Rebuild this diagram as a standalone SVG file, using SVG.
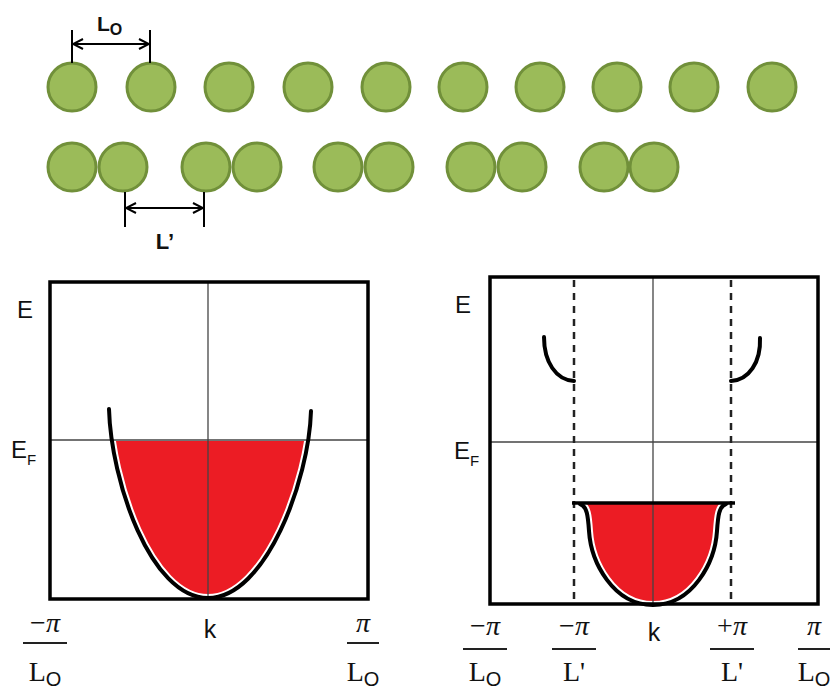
<svg xmlns="http://www.w3.org/2000/svg" width="832" height="689" viewBox="0 0 832 689">
<style>
.atom{fill:#9bbb59;stroke:#71903a;stroke-width:3}
.box{fill:none;stroke:#000;stroke-width:3.5}
.axis{stroke:#444;stroke-width:1.3;fill:none}
.dash{stroke:#222;stroke-width:2.5;stroke-dasharray:7 6;fill:none}
.band{fill:none;stroke:#000;stroke-width:4;stroke-linecap:round}
.red{fill:#ec1c24}
.gap{fill:none;stroke:#fff;stroke-width:8}
.lbl{font-family:"Liberation Sans",Arial,sans-serif;fill:#111}
.ser{font-family:"Liberation Serif","Times New Roman",serif;fill:#111}
.frac{stroke:#222;stroke-width:2}
.dim{stroke:#000;stroke-width:2;fill:none}
</style>
<defs>
<marker id="ah" viewBox="0 0 12 12" refX="11" refY="6" markerWidth="12" markerHeight="12" markerUnits="userSpaceOnUse" orient="auto-start-reverse">
<path d="M1,1 L11,6 L1,11" fill="none" stroke="#000" stroke-width="2"/>
</marker>
<clipPath id="below1"><rect x="0" y="441" width="420" height="248"/></clipPath>
<clipPath id="in1"><path d="M109,409 C111,480 150,598 208,598 C266,598 309,480 311,411 Z"/></clipPath>
<clipPath id="in2"><path d="M580,504 C587,506 588,516 589,531 C591,562 613,605 653,605 C693,605 715,562 717,531 C718,516 719,506 726,504 Z"/></clipPath>
</defs>

<g id="chain1">
<circle class="atom" cx="72" cy="87" r="24"/>
<circle class="atom" cx="151" cy="87" r="24"/>
<circle class="atom" cx="229" cy="87" r="24"/>
<circle class="atom" cx="308" cy="87" r="24"/>
<circle class="atom" cx="386" cy="87" r="24"/>
<circle class="atom" cx="463" cy="87" r="24"/>
<circle class="atom" cx="540" cy="87" r="24"/>
<circle class="atom" cx="617" cy="87" r="24"/>
<circle class="atom" cx="694" cy="87" r="24"/>
<circle class="atom" cx="772" cy="87" r="24"/>
</g>
<g id="dimL0">
<line class="dim" x1="72" y1="30" x2="72" y2="63"/>
<line class="dim" x1="150" y1="30" x2="150" y2="63"/>
<line class="dim" x1="73" y1="44" x2="149" y2="44" marker-start="url(#ah)" marker-end="url(#ah)"/>
<text class="lbl" x="97" y="31" font-size="21" font-weight="bold">L<tspan font-size="16" dy="4">O</tspan></text>
</g>

<g id="chain2">
<circle class="atom" cx="72" cy="167" r="24"/>
<circle class="atom" cx="123" cy="167" r="24"/>
<circle class="atom" cx="206" cy="167" r="24"/>
<circle class="atom" cx="257" cy="167" r="24"/>
<circle class="atom" cx="338" cy="167" r="24"/>
<circle class="atom" cx="389" cy="167" r="24"/>
<circle class="atom" cx="471" cy="167" r="24"/>
<circle class="atom" cx="522" cy="167" r="24"/>
<circle class="atom" cx="604" cy="167" r="24"/>
<circle class="atom" cx="654" cy="167" r="24"/>
</g>
<g id="dimLp">
<line class="dim" x1="125" y1="192" x2="125" y2="227"/>
<line class="dim" x1="204" y1="192" x2="204" y2="227"/>
<line class="dim" x1="126" y1="208" x2="203" y2="208" marker-start="url(#ah)" marker-end="url(#ah)"/>
<text class="lbl" x="165" y="249" font-size="22" font-weight="bold" text-anchor="middle">L’</text>
</g>

<g id="plot1">
<g clip-path="url(#below1)">
<path class="red" d="M109,409 C111,480 150,598 208,598 C266,598 309,480 311,411 Z"/>
<path class="gap" clip-path="url(#in1)" d="M109,409 C111,480 150,598 208,598 C266,598 309,480 311,411"/>
</g>
<line class="axis" x1="50" y1="440" x2="368" y2="440"/>
<line class="axis" x1="208" y1="282" x2="208" y2="599"/>
<path class="band" d="M109,409 C111,480 150,598 208,598 C266,598 309,480 311,411"/>
<rect class="box" x="50" y="282" width="318" height="317"/>
<text class="lbl" x="17" y="318" font-size="24">E</text>
<text class="lbl" x="11" y="458" font-size="24">E<tspan font-size="15" dy="7">F</tspan></text>
<text class="lbl" x="210" y="638" font-size="25" text-anchor="middle">k</text>
<text class="ser" x="45" y="632" font-size="28" text-anchor="middle">−<tspan font-style="italic">π</tspan></text>
<line class="frac" x1="23" y1="643" x2="67" y2="643"/>
<text class="ser" x="45" y="681" font-size="28" text-anchor="middle">L<tspan class="lbl" font-size="20" dy="5">O</tspan></text>
<text class="ser" x="363" y="632" font-size="28" font-style="italic" text-anchor="middle">π</text>
<line class="frac" x1="347" y1="643" x2="379" y2="643"/>
<text class="ser" x="363" y="681" font-size="28" text-anchor="middle">L<tspan class="lbl" font-size="20" dy="5">O</tspan></text>
</g>

<g id="plot2">
<path class="red" d="M580,504 C587,506 588,516 589,531 C591,562 613,605 653,605 C693,605 715,562 717,531 C718,516 719,506 726,504 Z"/>
<path class="gap" clip-path="url(#in2)" d="M580,504 C587,506 588,516 589,531 C591,562 613,605 653,605 C693,605 715,562 717,531 C718,516 719,506 726,504"/>
<line class="axis" x1="490" y1="442" x2="818" y2="442"/>
<line class="axis" x1="653" y1="277" x2="653" y2="604"/>
<line class="dash" x1="574" y1="280" x2="574" y2="602"/>
<line class="dash" x1="731" y1="280" x2="731" y2="602"/>
<path class="band" d="M580,504 C587,506 588,516 589,531 C591,562 613,605 653,605 C693,605 715,562 717,531 C718,516 719,506 726,504"/>
<line x1="572" y1="503" x2="735" y2="503" stroke="#000" stroke-width="3.5"/>
<path class="band" d="M544,337 C544,362 556,380 574,381"/>
<path class="band" d="M731,381 C749,380 761,362 760,338"/>
<rect class="box" x="490" y="277" width="328" height="327"/>
<text class="lbl" x="455" y="313" font-size="24">E</text>
<text class="lbl" x="454" y="459" font-size="24">E<tspan font-size="15" dy="7">F</tspan></text>
<text class="lbl" x="654" y="641" font-size="25" text-anchor="middle">k</text>
<text class="ser" x="485" y="635" font-size="28" text-anchor="middle">−<tspan font-style="italic">π</tspan></text>
<line class="frac" x1="463" y1="649" x2="507" y2="649"/>
<text class="ser" x="485" y="681" font-size="28" text-anchor="middle">L<tspan class="lbl" font-size="20" dy="5">O</tspan></text>
<text class="ser" x="574" y="635" font-size="28" text-anchor="middle">−<tspan font-style="italic">π</tspan></text>
<line class="frac" x1="552" y1="649" x2="596" y2="649"/>
<text class="ser" x="574" y="681" font-size="28" text-anchor="middle">L'</text>
<text class="ser" x="732" y="635" font-size="28" text-anchor="middle">+<tspan font-style="italic">π</tspan></text>
<line class="frac" x1="710" y1="649" x2="754" y2="649"/>
<text class="ser" x="732" y="681" font-size="28" text-anchor="middle">L'</text>
<text class="ser" x="814" y="635" font-size="28" font-style="italic" text-anchor="middle">π</text>
<line class="frac" x1="798" y1="649" x2="830" y2="649"/>
<text class="ser" x="814" y="681" font-size="28" text-anchor="middle">L<tspan class="lbl" font-size="20" dy="5">O</tspan></text>
</g>
</svg>
